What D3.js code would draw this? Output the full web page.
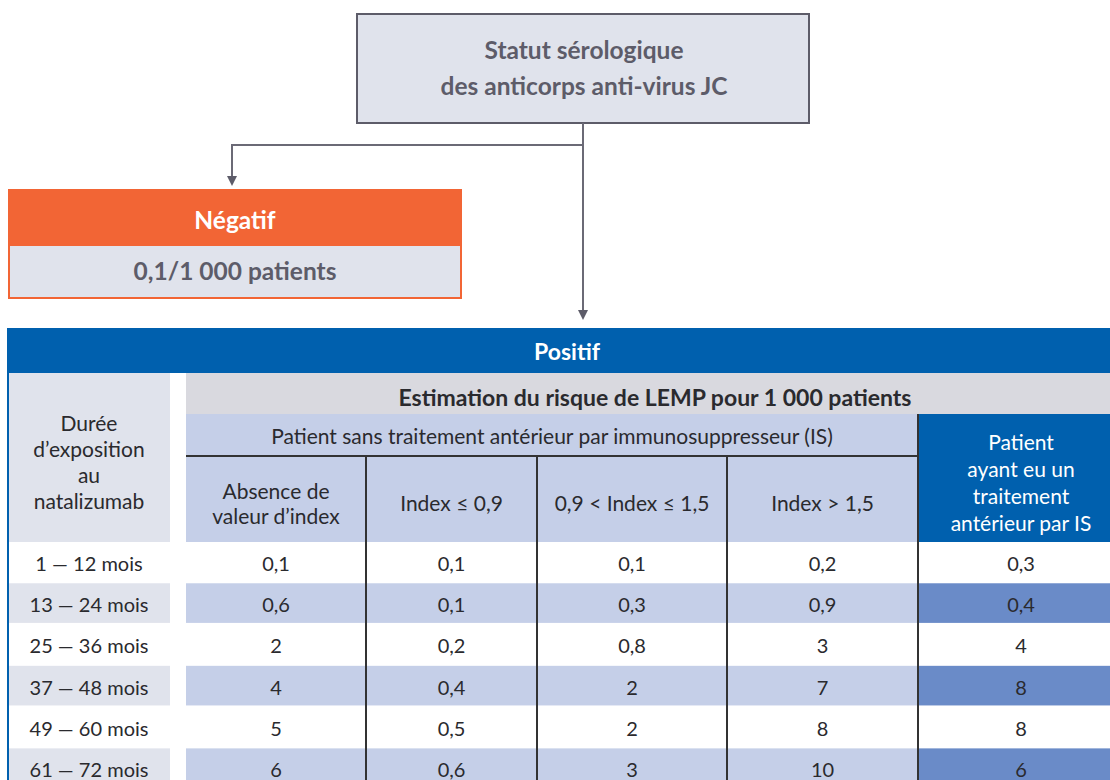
<!DOCTYPE html>
<html>
<head>
<meta charset="utf-8">
<script src="https://cdn.jsdelivr.net/npm/d3@7"></script>
<style>
  body { margin: 0; background: #fff; }
  svg { display: block; font-family: Lato, "Open Sans", sans-serif; }
</style>
</head>
<body>
<svg id="chart" width="1110" height="780"></svg>
<script>
// data
const periods = ["1 — 12 mois", "13 — 24 mois", "25 — 36 mois", "37 — 48 mois", "49 — 60 mois", "61 — 72 mois"];
const colKeys = ["absence", "idx09", "idx15", "idxGt", "prior"];
const colLabels = [["Absence de", "valeur d’index"], ["Index ≤ 0,9"], ["0,9 < Index ≤ 1,5"], ["Index > 1,5"],
                   ["Patient", "ayant eu un", "traitement", "antérieur par IS"]];
const absence = [0.1, 0.6, 2, 4, 5, 6];
const idx09 = [0.1, 0.1, 0.2, 0.4, 0.5, 0.6];
const idx15 = [0.1, 0.3, 0.8, 2, 2, 3];
const idxGt = [0.2, 0.9, 3, 7, 8, 10];
const prior = [0.3, 0.4, 4, 8, 8, 6];
const negativeRisk = "0,1/1 000 patients";

const series = { absence, idx09, idx15, idxGt, prior };

const fr = d3.formatLocale({ decimal: ",", thousands: " ", grouping: [3], currency: ["", " €"] });
const fmt = v => fr.format(",")(v);

const svg = d3.select("#chart");

const grey = "#5d5c69";
const lightGrey = "#e0e3ec";
const blue = "#0060ae";
const paleBlue = "#c5cfe8";
const midBlue = "#6a8bc8";
const orange = "#f26535";
const ink = "#2a2a2e";

// ---- top box
svg.append("rect").attr("x", 357).attr("y", 14).attr("width", 452).attr("height", 109)
  .attr("fill", lightGrey).attr("stroke", grey).attr("stroke-width", 2);
svg.append("text").attr("x", 584).attr("y", 59).attr("text-anchor", "middle")
  .attr("font-size", 24.5).attr("font-weight", 700).attr("fill", grey).text("Statut sérologique");
svg.append("text").attr("x", 584).attr("y", 95).attr("text-anchor", "middle")
  .attr("font-size", 24.5).attr("font-weight", 700).attr("fill", grey).text("des anticorps anti-virus JC");

// ---- connectors
const line = d3.line();
svg.append("path").attr("d", line([[583, 123], [583, 312]]))
  .attr("stroke", "#6b6a76").attr("stroke-width", 2).attr("fill", "none");
svg.append("path").attr("d", line([[583, 145], [232, 145], [232, 178]]))
  .attr("stroke", "#6b6a76").attr("stroke-width", 2).attr("fill", "none");
[[232, 186], [583, 320]].forEach(([x, y]) => {
  svg.append("path").attr("d", line([[x - 5, y - 10], [x + 5, y - 10], [x, y]]) + "Z").attr("fill", grey);
});

// ---- negative box
svg.append("rect").attr("x", 9).attr("y", 245).attr("width", 452).attr("height", 53)
  .attr("fill", lightGrey).attr("stroke", orange).attr("stroke-width", 2);
svg.append("rect").attr("x", 8).attr("y", 189).attr("width", 454).attr("height", 56).attr("fill", orange);
svg.append("text").attr("x", 235).attr("y", 229).attr("text-anchor", "middle")
  .attr("font-size", 24.5).attr("font-weight", 700).attr("fill", "#fff").text("Négatif");
svg.append("text").attr("x", 235).attr("y", 280).attr("text-anchor", "middle")
  .attr("font-size", 24.5).attr("font-weight", 700).attr("fill", grey).text(negativeRisk);

// ---- positive table (last column runs past the crop edge)
const colEdges = [186, 366, 537, 727, 918, 1124];
const xCol = d3.scaleOrdinal().domain(colKeys).range(colEdges.slice(0, 5));
const wCol = d3.scaleOrdinal().domain(colKeys).range(d3.pairs(colEdges).map(([a, b]) => b - a));
const y = d3.scaleBand().domain(periods).range([542, 788]).paddingInner(0.04);
const labelX1 = 170;

svg.append("rect").attr("x", 7).attr("y", 328).attr("width", 1103).attr("height", 45).attr("fill", blue);
svg.append("text").attr("x", 567).attr("y", 360).attr("text-anchor", "middle")
  .attr("font-size", 23).attr("font-weight", 700).attr("fill", "#fff").text("Positif");

// left blue border
svg.append("rect").attr("x", 7).attr("y", 328).attr("width", 2).attr("height", 452).attr("fill", blue);

// Durée header cell
svg.append("rect").attr("x", 9).attr("y", 373).attr("width", labelX1 - 9).attr("height", 169).attr("fill", lightGrey);
svg.append("text").attr("text-anchor", "middle").attr("font-size", 21).attr("fill", ink)
  .selectAll("tspan").data(["Durée", "d’exposition", "au", "natalizumab"]).join("tspan")
  .attr("x", 89).attr("y", (d, i) => 431 + i * 26).text(d => d);

// Estimation row
svg.append("rect").attr("x", 186).attr("y", 373).attr("width", 924).attr("height", 41).attr("fill", "#d9d9df");
svg.append("text").attr("x", 655).attr("y", 406).attr("text-anchor", "middle")
  .attr("font-size", 23).attr("font-weight", 700).attr("fill", ink)
  .text("Estimation du risque de LEMP pour 1 000 patients");

// Patient sans traitement group header + sub headers
svg.append("rect").attr("x", 186).attr("y", 414).attr("width", 732).attr("height", 128).attr("fill", paleBlue);
svg.append("text").attr("x", 552).attr("y", 444).attr("text-anchor", "middle")
  .attr("font-size", 21).attr("fill", ink)
  .text("Patient sans traitement antérieur par immunosuppresseur (IS)");
svg.append("rect").attr("x", 918).attr("y", 414).attr("width", 192).attr("height", 128).attr("fill", blue);

colKeys.forEach((k, i) => {
  const lines = colLabels[i];
  const cx = xCol(k) + wCol(k) / 2;
  const mid = k === "prior" ? 483 : 504;
  const step = k === "prior" ? 27 : 25;
  svg.append("text").attr("text-anchor", "middle").attr("font-size", 21)
    .attr("fill", k === "prior" ? "#fff" : ink)
    .selectAll("tspan").data(lines).join("tspan")
    .attr("x", cx).attr("y", (d, j) => mid + 7 + (j - (lines.length - 1) / 2) * step).text(d => d);
});

// body rows
const rows = svg.append("g").selectAll("g").data(periods).join("g");
rows.filter((d, i) => i % 2 === 1).each(function (d) {
  const g = d3.select(this);
  g.append("rect").attr("x", 9).attr("y", y(d)).attr("width", labelX1 - 9).attr("height", y.bandwidth()).attr("fill", lightGrey);
  g.append("rect").attr("x", 186).attr("y", y(d)).attr("width", 732).attr("height", y.bandwidth()).attr("fill", paleBlue);
  g.append("rect").attr("x", 918).attr("y", y(d)).attr("width", 192).attr("height", y.bandwidth()).attr("fill", midBlue);
});
rows.append("text").attr("x", 89).attr("y", d => y(d) + y.bandwidth() / 2 + 9)
  .attr("text-anchor", "middle").attr("font-size", 20).attr("fill", ink).text(d => d);
colKeys.forEach(k => {
  rows.append("text").attr("x", xCol(k) + wCol(k) / 2).attr("y", d => y(d) + y.bandwidth() / 2 + 9)
    .attr("text-anchor", "middle").attr("font-size", 20).attr("fill", ink)
    .text((d, i) => fmt(series[k][i]));
});

// grid lines
svg.append("path").attr("d", line([[186, 456], [918, 456]])).attr("stroke", "#333").attr("stroke-width", 2);
["idx09", "idx15", "idxGt"].forEach(k => {
  svg.append("path").attr("d", line([[xCol(k), 456], [xCol(k), 780]])).attr("stroke", "#333").attr("stroke-width", 2);
});
svg.append("path").attr("d", line([[918, 414], [918, 780]])).attr("stroke", "#333").attr("stroke-width", 2);
</script>
</body>
</html>
